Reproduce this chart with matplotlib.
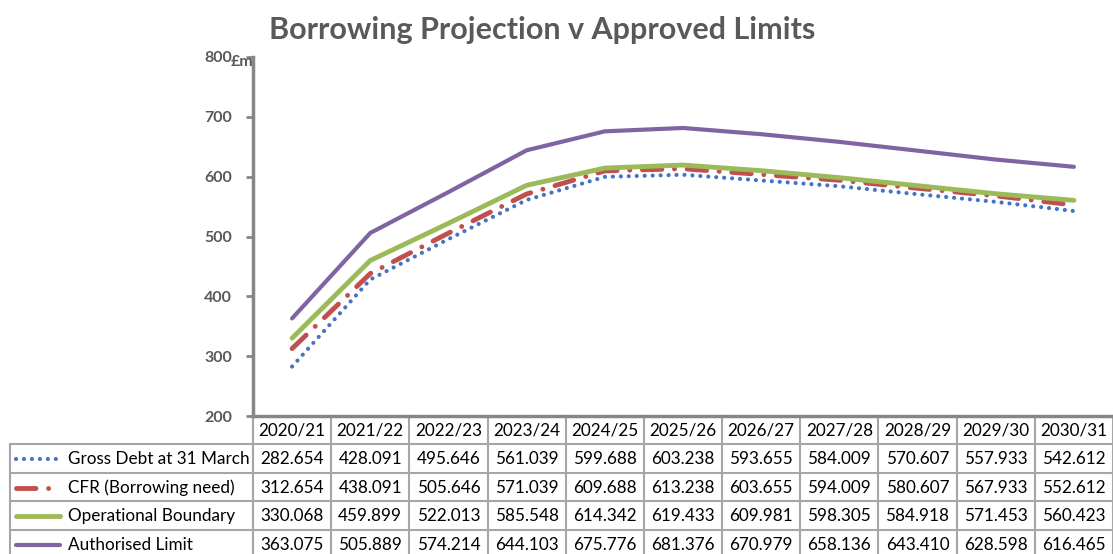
"""Borrowing projection against the approved prudential limits, 2020/21 to 2030/31,
drawn Excel-style with the data table underneath the chart."""

import matplotlib

matplotlib.use("Agg")
import matplotlib.pyplot as plt
from matplotlib.lines import Line2D
from matplotlib.transforms import blended_transform_factory

plt.rcParams["font.family"] = ["Lato", "DejaVu Sans"]

years = ["2020/21", "2021/22", "2022/23", "2023/24", "2024/25", "2025/26",
         "2026/27", "2027/28", "2028/29", "2029/30", "2030/31"]
gross_debt = [282.654, 428.091, 495.646, 561.039, 599.688, 603.238,
              593.655, 584.009, 570.607, 557.933, 542.612]
cfr = [312.654, 438.091, 505.646, 571.039, 609.688, 613.238,
       603.655, 594.009, 580.607, 567.933, 552.612]
operational = [330.068, 459.899, 522.013, 585.548, 614.342, 619.433,
               609.981, 598.305, 584.918, 571.453, 560.423]
authorised = [363.075, 505.889, 574.214, 644.103, 675.776, 681.376,
              670.979, 658.136, 643.410, 628.598, 616.465]

series = [
    ("Gross Debt at 31 March", gross_debt,
     dict(color="#4472C4", lw=3, linestyle=(0, (0.01, 1.9)), dash_capstyle="round")),
    ("CFR (Borrowing need)", cfr,
     dict(color="#C0504D", lw=3.5, linestyle=(0, (4, 2.6, 0.01, 2.6)), dash_capstyle="round")),
    ("Operational Boundary", operational,
     dict(color="#9BBB59", lw=3.5, linestyle="-", solid_capstyle="round")),
    ("Authorised Limit", authorised,
     dict(color="#8064A2", lw=3, linestyle="-", solid_capstyle="round")),
]

W, H = 1113, 554
GRID = "#A6A6A6"
AXIS = "#868686"
TEXT = "#595959"

fig = plt.figure(figsize=(W / 100, H / 100), dpi=100)
# plot area in pixels: left 253, right edge of figure, y from 57 (800) to 416 (200)
ax = fig.add_axes([253 / W, 1 - 416 / H, (W - 253) / W, (416 - 57) / H])

x = list(range(len(years)))
for name, values, style in series:
    ax.plot(x, values, **style, zorder=3)

ax.set_xlim(-0.5, len(years) - 0.5)
ax.set_ylim(200, 800)
ax.set_yticks(range(200, 801, 100))
ax.set_xticks([])
ax.tick_params(axis="y", length=5, width=2, color=AXIS, pad=10,
               labelsize=11.5, labelcolor=TEXT)
for lab in ax.get_yticklabels():
    lab.set_fontweight("bold")
for side in ("top", "right"):
    ax.spines[side].set_visible(False)
for side in ("left", "bottom"):
    ax.spines[side].set_color(AXIS)
    ax.spines[side].set_linewidth(2.5)

fig.text(231 / W, 1 - 62 / H, "£m", fontsize=11.5, fontweight="bold",
         color=TEXT, ha="left", va="center")
fig.text(542 / W, 1 - 30 / H, "Borrowing Projection v Approved Limits",
         fontsize=22, fontweight="bold", color=TEXT, ha="center", va="center")


# data table: x in data units, y in figure pixels from the top
def py(p):
    return 1 - p / H


tr = blended_transform_factory(ax.transData, fig.transFigure)
rows_top = [416, 444, 472.5, 501, 529.5, 558]
n = len(years)

# horizontal rules across the value columns and the label column
for yy in rows_top[1:]:
    ax.add_line(Line2D([-0.5, n - 0.5], [py(yy)] * 2, transform=tr,
                       color=GRID, lw=1.5, clip_on=False))
    fig.add_artist(Line2D([10 / W, 253 / W], [py(yy)] * 2, color=GRID, lw=1.5))
# vertical rules between year columns
for k in range(n + 1):
    ax.add_line(Line2D([k - 0.5] * 2, [py(rows_top[0]), py(rows_top[-1])],
                       transform=tr, color=GRID, lw=1.5, clip_on=False, zorder=1))
fig.add_artist(Line2D([10 / W] * 2, [py(rows_top[1]), py(rows_top[-1])],
                      color=GRID, lw=1.5))

for k, year in enumerate(years):
    ax.text(k, py((rows_top[0] + rows_top[1]) / 2 + 1), year, transform=tr,
            ha="center", va="center", fontsize=12.3, color="black", clip_on=False)

for r, (name, values, style) in enumerate(series):
    yc = py((rows_top[r + 1] + rows_top[r + 2]) / 2 + 1)
    for k, v in enumerate(values):
        ax.text(k, yc, f"{v:.3f}", transform=tr, ha="center", va="center",
                fontsize=12.3, color="black", clip_on=False)
    fig.add_artist(Line2D([16 / W, 60 / W], [yc, yc], **style))
    fig.text(68 / W, yc, name, ha="left", va="center", fontsize=12.3, color="black")

fig.savefig("out.png", dpi=100)
